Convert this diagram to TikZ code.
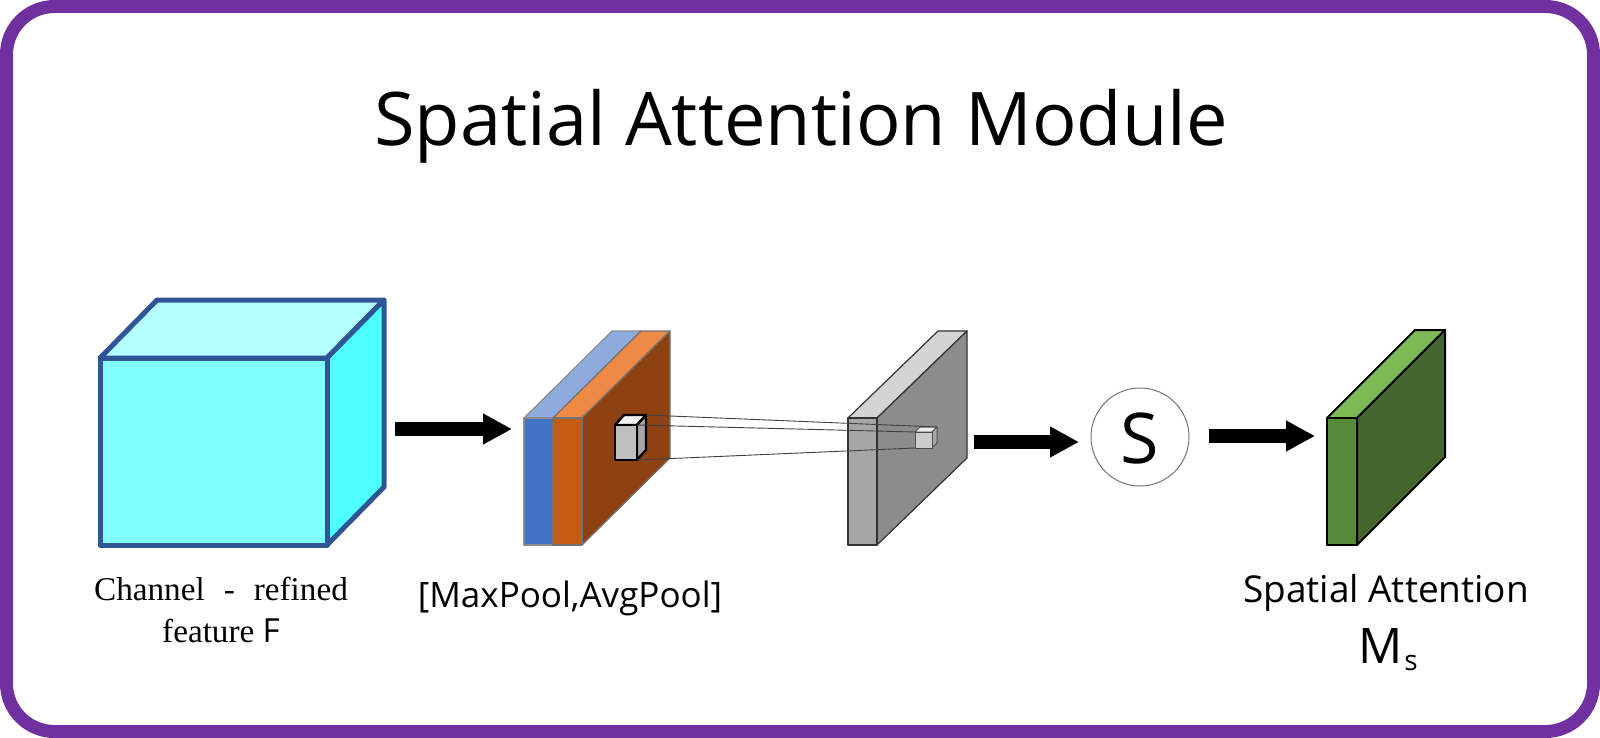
\documentclass[tikz,border=0pt]{standalone}
\usepackage{fontspec}
\setmainfont{Liberation Serif}
\setsansfont{Open Sans}
\usetikzlibrary{arrows.meta}
\definecolor{frame}{HTML}{7030A0}
\definecolor{cubeedge}{HTML}{2F5597}
\definecolor{cubefront}{HTML}{80FFFF}
\definecolor{cubetop}{HTML}{B3FFFF}
\definecolor{cuberight}{HTML}{4DFFFF}
\definecolor{bluefront}{HTML}{4472C4}
\definecolor{bluetop}{HTML}{8FAADC}
\definecolor{orfront}{HTML}{C55A11}
\definecolor{ortop}{HTML}{EE8A45}
\definecolor{orright}{HTML}{8E4212}
\definecolor{grfront}{HTML}{A6A6A6}
\definecolor{grtop}{HTML}{D4D4D4}
\definecolor{grright}{HTML}{8C8C8C}
\definecolor{gnfront}{HTML}{578A38}
\definecolor{gntop}{HTML}{7DBA55}
\definecolor{gnright}{HTML}{42662B}
\tikzset{
  bigarrow/.style={line width=7.3pt,-{Triangle[length=14.5pt,width=14.5pt]}},
  slabedge/.style={draw=#1,line width=0.6pt,line join=round},
  sans/.style={font=\sffamily\fontsize{#1}{#1}\selectfont,inner sep=0pt,anchor=base},
  serif/.style={font=\fontsize{#1}{#1}\selectfont,inner sep=0pt,anchor=base},
  ray/.style={draw=black!75,line width=0.45pt}
}
\begin{document}
\begin{tikzpicture}[x=0.5pt,y=-0.5pt]
\useasboundingbox (0,0) rectangle (1600,738);
% frame
\draw[frame,line width=6.5pt,rounded corners=24pt] (6.5,6.5) rectangle (1593.5,731.5);
% title
\node[sans=37] (title) at (801,146) {Spatial Attention Module};
% big cube
\begin{scope}[draw=cubeedge,line width=2.5pt,line join=round]
\filldraw[fill=cubetop] (100,358) -- (327,358) -- (384,300) -- (157,300) -- cycle;
\filldraw[fill=cuberight] (327,358) -- (384,300) -- (384,487) -- (327,545) -- cycle;
\filldraw[fill=cubefront] (100,358) rectangle (327,545);
\end{scope}
% pooled maps
\filldraw[slabedge=black!45,fill=bluetop] (524,418) -- (553,418) -- (641,331) -- (612,331) -- cycle;
\filldraw[slabedge=black!45,fill=bluefront] (524,418) rectangle (553,545);
\filldraw[slabedge=black!55,fill=ortop] (553,418) -- (582,418) -- (670,331) -- (641,331) -- cycle;
\filldraw[slabedge=black!55,fill=orright] (582,418) -- (670,331) -- (670,458) -- (582,545) -- cycle;
\filldraw[slabedge=black!55,fill=orfront] (553,418) rectangle (582,545);
% small kernel cube
\begin{scope}[draw=black,line width=1.2pt,line join=round]
\filldraw[fill=black!5] (615,425) -- (637,425) -- (646,415) -- (624,415) -- cycle;
\filldraw[fill=black!35] (637,425) -- (646,415) -- (646,450) -- (637,460) -- cycle;
\filldraw[fill=black!25] (615,425) rectangle (637,460);
\end{scope}
% gray conv map
\filldraw[slabedge=black!80,fill=grtop] (848,418) -- (877,418) -- (967,331) -- (938,331) -- cycle;
\filldraw[slabedge=black!80,fill=grright] (877,418) -- (967,331) -- (967,458) -- (877,545) -- cycle;
\filldraw[slabedge=black!80,fill=grfront] (848,418) rectangle (877,545);
% rays
\coordinate (k1) at (646,415); \coordinate (k2) at (637,425); \coordinate (k3) at (637,460);
\coordinate (p1) at (937,427); \coordinate (p2) at (915,432); \coordinate (p3) at (915,448);
\draw[ray] (k1) -- (p1);
\draw[ray] (k2) -- (p2);
\draw[ray] (k3) -- (p3);
% output pixel
\begin{scope}[draw=black!70,line width=0.5pt,line join=round]
\filldraw[fill=black!7] (915,432) -- (932,432) -- (937,427) -- (920,427) -- cycle;
\filldraw[fill=black!35] (932,432) -- (937,427) -- (937,443) -- (932,448) -- cycle;
\filldraw[fill=black!20] (915,432) rectangle (932,448);
\end{scope}
% sigmoid
\node[circle,draw=black!55,line width=0.5pt,minimum size=49pt,inner sep=0pt] (sig) at (1140,437) {};
\node[sans=35] (S) at (1140,463) {S};
% green attention map
\begin{scope}[draw=black,line width=1pt,line join=round]
\filldraw[fill=gntop] (1327,418) -- (1357,418) -- (1445,330) -- (1415,330) -- cycle;
\filldraw[fill=gnright] (1357,418) -- (1445,330) -- (1445,457) -- (1357,545) -- cycle;
\filldraw[fill=gnfront] (1327,418) rectangle (1357,545);
\end{scope}
% arrows
\coordinate (a1s) at (395,429); \coordinate (a1e) at (512,429);
\coordinate (a2s) at (974,442); \coordinate (a2e) at (1079,442);
\coordinate (a3s) at (1209,436); \coordinate (a3e) at (1315,436);
\draw[bigarrow] (a1s) -- (a1e);
\draw[bigarrow] (a2s) -- (a2e);
\draw[bigarrow] (a3s) -- (a3e);
% labels
\node[serif=16.6] (lab1) at (221,600) {Channel\hspace{9.5pt}-\hspace{9.5pt}refined};
\node[serif=16.6] (lab2) at (221,642) {feature {\sffamily F}};
\node[sans=17.5] (lab3) at (570,607) {[MaxPool,AvgPool]};
\node[sans=18.5] (lab4) at (1386,602) {Spatial Attention};
\node[sans=24.5] (lab5) at (1388,663) {M\hspace{1pt}{\fontsize{14}{14}\selectfont\raisebox{-3.5pt}{s}}};
\end{tikzpicture}
\end{document}
